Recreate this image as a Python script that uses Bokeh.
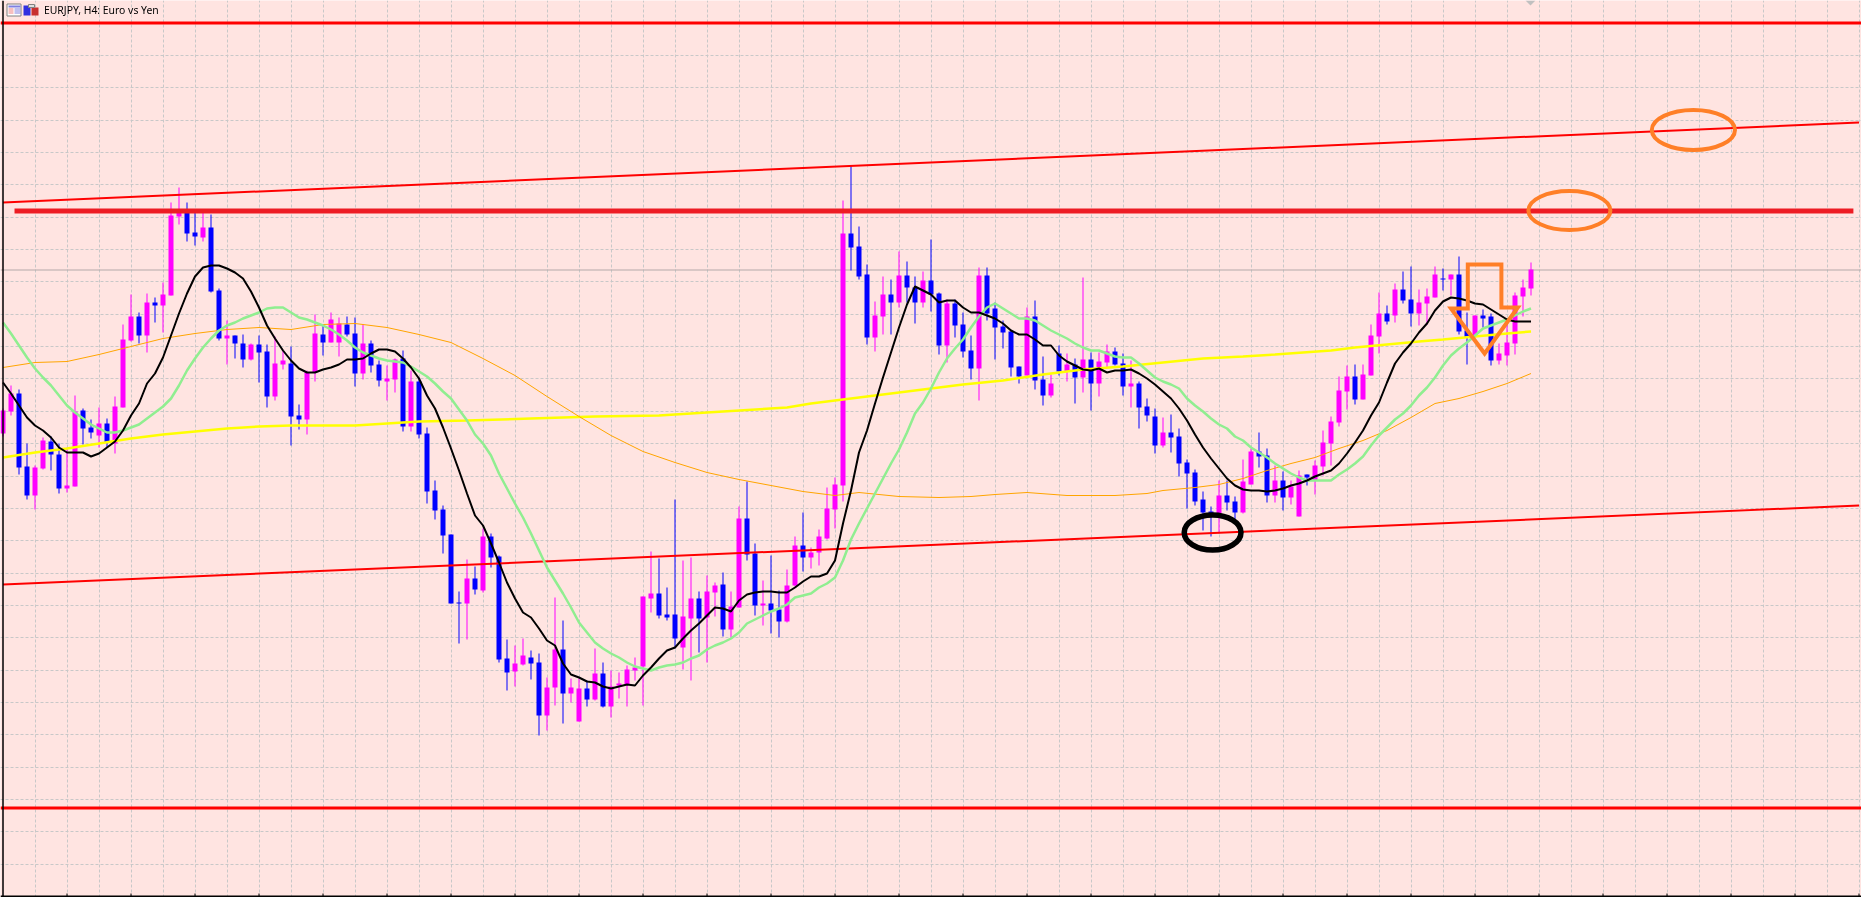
from bokeh.plotting import figure
from bokeh.models import Range1d, FixedTicker, Span, ColumnDataSource
from bokeh.core.properties import value
from bokeh.embed import file_html
from bokeh.resources import INLINE

# EURJPY H4 candles (bar index = list position)
open_ = [125.67,125.89,126.07,125.34,125.05,125.32,125.59,125.46,125.12,125.14,
 125.90,125.73,125.65,125.77,125.57,125.93,126.60,126.84,126.65,126.98,
 126.95,127.05,127.84,127.88,127.68,127.63,127.73,127.10,126.62,126.65,
 126.57,126.41,126.56,126.49,126.04,126.36,126.37,125.85,125.81,126.28,
 126.66,126.58,126.58,126.76,126.67,126.27,126.57,126.36,126.19,126.21,
 126.42,125.74,126.19,125.67,125.10,124.91,124.66,123.98,123.97,124.22,
 124.10,124.64,124.44,123.42,123.29,123.36,123.43,123.38,122.85,123.13,
 123.51,123.07,122.79,123.12,123.01,123.27,122.94,123.15,123.16,123.30,
 123.34,124.02,124.07,123.86,123.86,123.53,123.82,124.02,123.83,124.08,
 124.16,123.71,123.93,124.82,124.47,123.95,123.97,123.91,123.79,124.15,
 124.55,124.43,124.48,124.62,124.91,125.15,127.67,127.54,127.26,126.63,
 126.84,127.06,126.98,127.25,127.13,126.98,127.20,127.07,126.55,126.97,
 126.76,126.50,126.32,127.25,126.92,126.74,126.69,126.34,126.25,126.84,
 126.21,126.05,126.47,126.29,126.36,126.23,126.41,126.17,126.38,126.49,
 126.37,126.14,126.17,125.94,125.84,125.55,125.68,125.64,125.38,125.28,
 125.01,124.89,124.87,125.05,124.99,124.88,125.16,125.49,125.45,125.05,
 125.20,125.03,124.84,125.26,125.20,125.34,125.57,125.78,126.09,126.24,
 126.01,126.25,126.64,126.87,126.85,127.11,127.01,126.87,126.97,127.03,
 127.22,127.21,127.26,126.70,126.65,126.85,126.84,126.40,126.45,126.57,
 127.04,127.12]
high = [125.92,126.15,126.11,125.57,125.35,125.63,125.64,125.57,125.53,126.05,
 125.92,125.81,125.93,125.82,126.04,126.76,127.06,126.88,127.07,127.03,
 127.18,127.98,128.13,127.98,127.88,127.88,127.86,127.12,126.80,126.65,
 126.66,126.57,126.65,126.56,126.64,126.50,126.54,125.96,126.30,126.86,
 126.75,126.88,126.83,126.84,126.83,126.76,126.60,126.40,126.35,126.42,
 126.50,126.30,126.23,125.73,125.20,124.95,124.66,124.09,124.41,124.34,
 124.72,124.67,124.45,123.61,123.55,123.62,123.50,123.47,123.23,124.03,
 123.80,123.22,123.22,123.20,123.52,123.38,123.30,123.28,123.35,123.43,
 124.04,124.49,124.42,124.13,125.01,124.40,124.43,124.09,124.25,124.18,
 124.28,124.09,124.94,125.19,124.57,124.20,124.45,124.10,124.31,124.64,
 124.88,124.53,124.71,125.13,125.23,128.00,128.35,127.74,127.36,126.99,
 127.24,127.21,127.49,127.39,127.24,127.29,127.61,127.08,127.01,127.01,
 126.88,126.65,127.33,127.33,126.98,126.80,126.70,126.34,126.93,127.00,
 126.44,126.26,126.55,126.47,126.42,127.23,126.48,126.48,126.56,126.53,
 126.47,126.40,126.19,126.02,125.92,125.83,125.86,125.72,125.41,125.31,
 125.09,124.94,125.20,125.20,125.04,125.41,125.52,125.68,125.52,125.35,
 125.29,125.20,125.30,125.26,125.40,125.70,125.84,126.24,126.35,126.36,
 126.36,126.76,127.08,126.95,127.17,127.29,127.34,127.11,127.12,127.34,
 127.32,127.26,127.44,126.88,126.85,126.91,126.87,126.57,126.78,127.08,
 127.21,127.38]
low = [125.64,125.85,125.26,125.01,124.91,125.31,125.30,125.07,125.08,125.14,
 125.56,125.62,125.53,125.53,125.47,125.93,126.59,126.57,126.48,126.78,
 126.68,127.05,127.76,127.59,127.55,127.59,127.08,126.60,126.36,126.42,
 126.33,126.40,126.18,125.93,126.00,126.31,125.55,125.71,125.66,126.19,
 126.45,126.58,126.44,126.64,126.14,126.21,126.28,126.14,126.00,126.08,
 125.69,125.69,125.62,124.97,124.81,124.47,123.97,123.57,123.61,124.06,
 124.08,124.33,123.38,123.10,123.14,123.35,123.21,122.65,122.70,122.95,
 122.77,122.98,122.79,122.94,123.00,122.93,122.83,123.02,122.94,123.20,
 122.95,123.88,123.82,123.80,123.52,123.31,123.20,123.48,123.38,123.84,
 123.64,123.63,123.93,124.40,123.85,123.75,123.67,123.63,123.78,124.14,
 124.29,124.32,124.35,124.61,124.72,124.99,127.30,127.21,126.56,126.49,
 126.66,126.66,126.93,126.98,126.77,126.93,126.89,126.46,126.38,126.63,
 126.43,126.21,126.00,126.80,126.41,126.52,126.24,126.17,126.25,126.11,
 125.95,126.03,126.25,126.19,125.97,126.08,125.90,126.04,126.33,126.35,
 126.05,125.93,125.72,125.79,125.47,125.53,125.48,125.24,124.92,124.95,
 124.70,124.64,124.67,124.90,124.80,124.87,125.16,125.33,124.98,124.98,
 124.90,124.96,124.84,125.15,125.06,125.25,125.35,125.74,125.91,125.96,
 126.01,126.25,126.47,126.76,126.78,126.97,126.74,126.75,126.76,127.03,
 127.10,127.05,126.66,126.36,126.63,126.73,126.35,126.36,126.35,126.46,
 126.84,127.05]
close = [125.90,126.07,125.33,125.05,125.33,125.60,125.46,125.12,125.15,125.89,
 125.72,125.68,125.77,125.58,125.94,126.61,126.84,126.65,126.98,126.95,
 127.06,127.85,127.90,127.67,127.64,127.73,127.09,126.62,126.65,126.57,
 126.41,126.56,126.48,126.04,126.37,126.40,125.84,125.81,126.28,126.67,
 126.58,126.81,126.77,126.66,126.27,126.57,126.35,126.20,126.22,126.41,
 125.74,126.19,125.66,125.09,124.90,124.65,123.97,123.97,124.22,124.11,
 124.64,124.43,123.41,123.28,123.37,123.45,123.37,122.85,123.13,123.51,
 123.07,123.13,123.12,123.01,123.27,122.94,123.14,123.17,123.31,123.33,
 124.04,124.07,123.85,123.83,123.62,123.84,124.02,123.82,124.09,124.15,
 123.71,123.94,124.82,124.46,123.95,123.97,123.90,123.79,124.15,124.55,
 124.43,124.48,124.64,124.92,125.16,127.67,127.53,127.24,126.63,126.85,
 127.06,126.98,127.25,127.13,126.98,127.20,127.06,126.55,126.97,126.75,
 126.49,126.32,127.25,126.87,126.73,126.68,126.33,126.24,126.84,126.20,
 126.05,126.17,126.29,126.36,126.23,126.41,126.17,126.39,126.49,126.36,
 126.14,126.17,125.93,125.85,125.55,125.68,125.63,125.37,125.27,124.99,
 124.88,124.85,125.05,124.98,124.88,125.19,125.49,125.44,125.05,125.20,
 125.03,125.14,125.25,125.23,125.35,125.58,125.79,126.10,126.24,126.01,
 126.26,126.65,126.87,126.79,127.11,127.00,126.87,126.98,127.04,127.26,
 127.21,127.26,126.69,126.63,126.85,126.82,126.40,126.47,126.58,127.05,
 127.13,127.31]

# moving averages
ma_black = [126.18,126.07,125.95,125.83,125.75,125.70,125.63,125.53,125.48,125.48,
 125.48,125.44,125.47,125.53,125.59,125.70,125.85,125.97,126.17,126.27,
 126.43,126.65,126.87,127.07,127.24,127.33,127.35,127.35,127.32,127.28,
 127.22,127.09,126.93,126.75,126.62,126.50,126.40,126.32,126.28,126.28,
 126.31,126.33,126.36,126.41,126.41,126.42,126.47,126.51,126.51,126.49,
 126.42,126.33,126.22,126.05,125.92,125.73,125.52,125.30,125.07,124.85,
 124.75,124.57,124.38,124.18,124.02,123.88,123.83,123.72,123.60,123.55,
 123.37,123.26,123.23,123.19,123.18,123.14,123.12,123.14,123.16,123.15,
 123.25,123.33,123.42,123.50,123.53,123.62,123.70,123.77,123.85,123.93,
 123.92,123.89,124.00,124.06,124.08,124.09,124.09,124.08,124.08,124.13,
 124.19,124.24,124.24,124.27,124.40,124.77,125.10,125.48,125.70,125.97,
 126.23,126.48,126.73,126.96,127.14,127.10,127.06,126.98,127.00,127.00,
 126.93,126.88,126.88,126.85,126.82,126.77,126.70,126.66,126.66,126.61,
 126.55,126.55,126.45,126.39,126.35,126.31,126.30,126.32,126.28,126.30,
 126.30,126.31,126.27,126.22,126.16,126.09,126.02,125.92,125.80,125.66,
 125.53,125.42,125.32,125.22,125.15,125.11,125.10,125.10,125.09,125.10,
 125.12,125.15,125.17,125.20,125.24,125.27,125.30,125.37,125.47,125.58,
 125.70,125.85,125.98,126.18,126.37,126.48,126.57,126.68,126.77,126.90,
 126.99,127.03,127.02,127.00,126.97,126.96,126.91,126.86,126.81,126.79,
 126.79,126.79]
ma_green = [126.78,126.67,126.55,126.43,126.32,126.23,126.15,126.05,125.95,125.88,
 125.82,125.76,125.72,125.68,125.68,125.70,125.73,125.76,125.82,125.88,
 125.94,126.02,126.15,126.30,126.42,126.53,126.62,126.70,126.75,126.78,
 126.82,126.85,126.88,126.92,126.93,126.93,126.88,126.83,126.81,126.78,
 126.75,126.71,126.66,126.60,126.53,126.48,126.45,126.42,126.40,126.39,
 126.38,126.34,126.29,126.24,126.17,126.09,126.02,125.91,125.80,125.66,
 125.57,125.45,125.27,125.12,124.97,124.83,124.67,124.50,124.33,124.20,
 124.07,123.93,123.78,123.68,123.58,123.52,123.47,123.43,123.38,123.34,
 123.32,123.30,123.33,123.35,123.36,123.38,123.42,123.45,123.51,123.55,
 123.58,123.62,123.68,123.77,123.81,123.85,123.89,123.92,123.96,124.03,
 124.05,124.07,124.13,124.17,124.23,124.40,124.61,124.77,124.92,125.07,
 125.22,125.37,125.51,125.68,125.87,125.98,126.12,126.28,126.42,126.52,
 126.61,126.73,126.84,126.93,126.97,126.92,126.87,126.82,126.82,126.80,
 126.75,126.70,126.66,126.62,126.57,126.53,126.50,126.50,126.47,126.44,
 126.43,126.43,126.37,126.30,126.23,126.19,126.16,126.12,126.02,125.95,
 125.89,125.82,125.76,125.72,125.64,125.60,125.53,125.48,125.43,125.37,
 125.32,125.27,125.23,125.20,125.20,125.20,125.20,125.26,125.31,125.37,
 125.44,125.55,125.65,125.73,125.81,125.87,125.95,126.05,126.13,126.23,
 126.35,126.45,126.52,126.58,126.65,126.72,126.75,126.78,126.81,126.85,
 126.89,126.92]
orange_bars = [0,4,8,12,16,20,24,28,32,36,40,44,48,52,56,60,64,68,72,76,80,84,88,92,96,100,104,
 107,112,117,121,124,128,133,139,143,145,149,152,155,158,161,164,167,170,173,176,179,182,185,188,191]
ma_orange = [126.33,126.38,126.39,126.46,126.54,126.62,126.67,126.71,126.73,126.71,126.76,126.77,
 126.73,126.66,126.58,126.42,126.25,126.04,125.84,125.65,125.49,125.38,125.28,125.21,125.15,125.09,125.05,
 125.08,125.04,125.03,125.04,125.06,125.08,125.05,125.05,125.07,125.10,125.13,125.16,125.22,125.30,125.37,
 125.43,125.52,125.60,125.70,125.83,125.97,126.02,126.09,126.17,126.27]
yellow_bars = [0,4,8,12,16,20,24,28,32,36,44,48,52,58,66,74,82,90,98,101,105,110,115,120,125,130,
 135,140,145,150,155,159,166,169,173,177,180,184,188,191]
ma_yellow = [125.43,125.48,125.52,125.57,125.62,125.66,125.69,125.72,125.74,125.75,125.75,125.77,125.79,
 125.80,125.82,125.84,125.85,125.89,125.93,125.97,126.01,126.06,126.11,126.16,126.20,126.26,
 126.31,126.34,126.38,126.42,126.44,126.46,126.50,126.53,126.56,126.59,126.61,126.64,126.67,126.69]

# drawn objects
channel_bars = [0, 232]
channel_top = [127.98, 128.78]
channel_bottom = [124.16, 124.95]
level_thick = 127.895
level_top = 129.775
level_bottom = 121.925
bid_price = 127.305
thick_bars = [1.44, 231.3]
arrow_bars = [183.1, 187.3, 187.3, 189.35, 185.2, 181.0, 183.1]
arrow_prices = [127.36, 127.36, 126.93, 126.93, 126.47, 126.92, 126.92]
grid_prices = [129.775,129.455,129.135,128.805,128.485,128.165,127.835,127.515,127.195,
 126.865,126.545,126.225,125.895,125.575,125.245,124.925,124.605,124.275,123.955,
 123.635,123.305,122.985,122.665,122.335,122.015,121.695,121.365]
title_text = "EURJPY, H4:  Euro vs Yen"

W, H = 1861, 897
x_lo, x_hi = -2.5 / 8, (W - 2.5) / 8
y_top, y_bot = 130.0, 130.0 - H / 100

bars = list(range(len(close)))
up = [c >= o for o, c in zip(open_, close)]
src = ColumnDataSource(dict(
    x=bars, high=high, low=low,
    top=[max(o, c) for o, c in zip(open_, close)],
    bottom=[min(o, c) for o, c in zip(open_, close)],
    color=["#FF00FF" if u else "#0000FF" for u in up],
))

p = figure(width=W, height=H, output_backend="svg", toolbar_location=None,
           x_range=Range1d(x_lo, x_hi), y_range=Range1d(y_bot, y_top),
           min_border=0, outline_line_color=None, background_fill_color="#FFE4E1",
           styles={"position": "fixed", "left": "0px", "top": "0px"})
p.xaxis.visible = False
p.yaxis.visible = False
p.xgrid.ticker = FixedTicker(ticks=list(range(4, 233, 4)))
p.ygrid.ticker = FixedTicker(ticks=grid_prices)
for g in (p.xgrid, p.ygrid):
    g.grid_line_color = "#C8C8C8"
    g.grid_line_dash = "3 2"
    g.grid_line_width = 1

# bid line
p.add_layout(Span(location=bid_price, dimension="width", line_color="#B4A9A9", line_width=1, level="underlay"))

# candles
p.segment("x", "high", "x", "low", source=src, color="color", line_width=1)
p.vbar(x="x", top="top", bottom="bottom", width=0.625, source=src, fill_color="color", line_color=None)

# trend lines
p.line(channel_bars, channel_top, line_color="#FF0000", line_width=2)
p.line(channel_bars, channel_bottom, line_color="#FF0000", line_width=2)
p.line([x_lo, x_hi], [level_top, level_top], line_color="#FF0000", line_width=3)
p.line([x_lo, x_hi], [level_bottom, level_bottom], line_color="#FF0000", line_width=3)

# moving averages
p.line(yellow_bars, ma_yellow, line_color="#FFFF00", line_width=2.5)
p.line(orange_bars, ma_orange, line_color="#FFA500", line_width=1)
p.line(bars, ma_green, line_color="#90EE90", line_width=2.5)
p.line(bars, ma_black, line_color="#000000", line_width=2)

# annotations
p.line(thick_bars, [level_thick, level_thick], line_color="#ED1C24", line_width=5)
p.ellipse([211.3, 195.8], [128.705, 127.90], width=[10.4, 10.25], height=[0.40, 0.39],
          fill_color=None, line_color="#FF7F27", line_width=4)
p.ellipse([151.2], [124.68], width=[7.1], height=[0.35],
          fill_color=None, line_color="#000000", line_width=5.5)
p.patch(arrow_bars, arrow_prices, fill_color=None, line_color="#FF7F27", line_width=4, line_join="miter")

# frame
fx = lambda px: (px - 2.5) / 8
fy = lambda py: 130.0 - py / 100
p.add_layout(Span(location=fx(2.5), dimension="height", line_color="#000000", line_width=1.5))
p.add_layout(Span(location=fy(895.7), dimension="width", line_color="#000000", line_width=1.5))
tk = list(range(8, 233, 8))
p.segment(tk, [fy(895.7)] * len(tk), tk, [fy(893)] * len(tk), line_color="#000000", line_width=1)

# small marker at the very top
p.patch([fx(1525), fx(1535), fx(1530)], [fy(0), fy(0), fy(5)], fill_color="#C0C0C0", line_color=None)

# title bar icons
def box(x0, y0, x1, y1, c, lc=None):
    p.quad(left=fx(x0), right=fx(x1), top=fy(y0), bottom=fy(y1), fill_color=c, line_color=lc, line_width=1)
box(6.5, 3.5, 20.5, 15.5, "#FFFFFF", "#808080")
box(8, 5, 20, 7, "#8080E0")
for yy in (8, 10, 12):
    box(8, yy, 13, yy + 1, "#F08080")
    box(14, yy, 20, yy + 1, "#8080E0")
box(23, 5, 30, 15, "#3030E0")
box(31, 7, 38, 15, "#C83030")
box(28, 4, 34, 7, "#E0E0E0", "#808080")

p.text([fx(43.5)], [fy(9.5)], text=[title_text], text_font=value("Noto Sans"), text_font_size="10.4px",
       text_color="#000000", text_baseline="middle", text_align="left")

open("out.html", "w").write(file_html(p, INLINE))
